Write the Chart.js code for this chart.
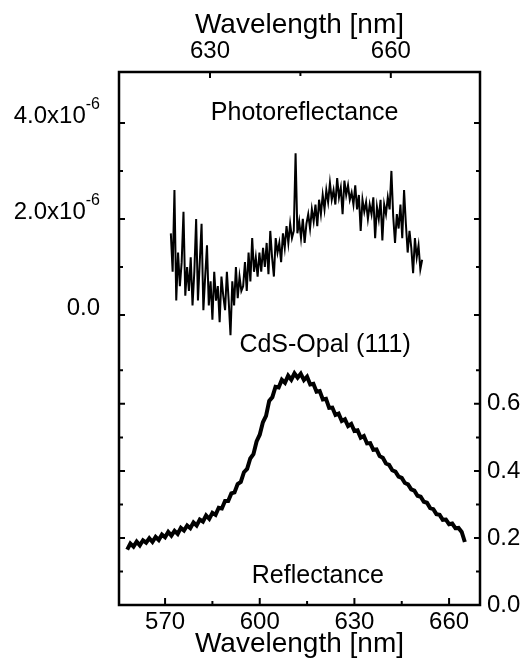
<!DOCTYPE html>
<html>
<head>
  <meta charset="utf-8">
  <script src="https://cdn.jsdelivr.net/npm/chart.js"></script>
  <style>
    body { margin: 0; background: #fff; }
  </style>
</head>
<body>
  <canvas id="chart" width="521" height="663"></canvas>
  <script>
    // axis ticks
    const bottomTicks = [570, 600, 630, 660];
    const bottomMinor = [585, 615, 645];
    const topTicks = [630, 660];
    const topMinor = [645];
    const leftTicks = [0, 2, 4];          // photoreflectance, x1e-6
    const leftMinor = [1, 3];
    const leftLabels = ['0.0', '2.0x10', '4.0x10'];
    const leftExp = ['', '-6', '-6'];
    const rightTicks = [0, 0.2, 0.4, 0.6];
    const rightMinor = [0.1, 0.3, 0.5, 0.7];

    // photoreflectance (top wavelength axis), one sample every 0.3 nm from 623.5 nm, values x1e-6
    const prStart = 623.5, prStep = 0.3;
    const prValues = [
      1.7, 0.9, 2.6, 0.3, 1.3, 0.6, 1.1, 2.15, 0.4, 1.0,
      0.5, 1.2, 0.2, 0.9, 2.0, 0.3, 1.1, 1.9, 0.1, 0.8,
      1.45, 0.2, 0.7, -0.1, 0.9, 0.3, 0.6, -0.15, 0.8, 0.4,
      0.1, 0.9, 0.3, -0.42, 0.7, 0.2, 1.0, 0.35, 0.8, 0.5,
      0.6, 1.1, 0.5, 1.3, 0.7, 1.6, 0.9, 1.2, 0.8, 1.3,
      0.9, 1.4, 1.0, 1.5, 0.85, 1.75, 1.2, 0.8, 1.6, 1.3,
      1.5, 1.1, 1.7, 1.4, 1.85, 1.5, 1.9, 1.6, 1.75, 3.37,
      1.7, 1.95, 1.6, 2.0, 1.5, 1.9, 2.1, 1.8, 2.2, 1.95,
      2.3, 1.85, 2.4, 2.1, 2.5, 2.2, 2.6, 2.35, 2.75, 2.4,
      2.6, 2.3, 2.85, 2.45, 2.65, 2.1, 2.8, 2.5, 2.7, 2.4,
      2.55, 2.3, 2.7, 2.2, 2.5, 1.75, 2.4, 2.15, 2.35, 2.0,
      2.3, 2.1, 2.45, 1.6, 2.25, 2.0, 2.4, 1.55, 2.3, 2.1,
      2.45, 2.2, 3.0, 2.05, 1.5, 2.1, 1.8, 2.3, 1.6, 2.6,
      1.9, 1.3, 1.75, 1.4, 0.87, 1.6, 1.2, 1.45, 0.95, 1.15
    ];

    // reflectance (bottom wavelength axis), one sample per nm from 558 nm
    const reflStart = 558, reflStep = 1;
    const reflValues = [
      0.165, 0.183, 0.174, 0.189, 0.178, 0.193, 0.186, 0.199, 0.188, 0.203,
      0.194, 0.210, 0.202, 0.218, 0.207, 0.221, 0.212, 0.230, 0.222, 0.237,
      0.229, 0.246, 0.237, 0.255, 0.249, 0.267, 0.257, 0.275, 0.269, 0.290,
      0.288, 0.310, 0.310, 0.333, 0.336, 0.361, 0.367, 0.396, 0.406, 0.437,
      0.450, 0.488, 0.508, 0.545, 0.564, 0.609, 0.620, 0.651, 0.649, 0.672,
      0.663, 0.684, 0.672, 0.691, 0.678, 0.690, 0.671, 0.681, 0.658, 0.660,
      0.636, 0.638, 0.613, 0.615, 0.588, 0.589, 0.567, 0.571, 0.549, 0.554,
      0.534, 0.540, 0.519, 0.521, 0.499, 0.504, 0.482, 0.483, 0.463, 0.464,
      0.444, 0.439, 0.422, 0.418, 0.402, 0.398, 0.383, 0.379, 0.364, 0.360,
      0.345, 0.341, 0.326, 0.323, 0.308, 0.305, 0.289, 0.286, 0.271, 0.269,
      0.254, 0.255, 0.241, 0.243, 0.229, 0.230, 0.218, 0.188
    ];

    const notes = [
      { text: 'Photoreflectance', xAxis: 'xTop', x: 645.7, yAxis: 'yL', y: 4.21 },
      { text: 'CdS-Opal (111)', xAxis: 'x', x: 620.7, yAxis: 'yR', y: 0.776 },
      { text: 'Reflectance', xAxis: 'x', x: 618.4, yAxis: 'yR', y: 0.087 }
    ];

    const family = '"Liberation Sans", Arial, sans-serif';

    const prData = prValues.map((v, i) => ({ x: prStart + i * prStep, y: v }));
    const reflData = reflValues.map((v, i) => ({ x: reflStart + i * reflStep, y: v }));

    // frame with inward ticks, left labels with superscript, text notes
    const frameAndTicks = {
      id: 'frameAndTicks',
      afterDatasetsDraw(chart) {
        const { ctx, chartArea: a, scales } = chart;
        ctx.save();
        ctx.strokeStyle = '#000';
        ctx.lineWidth = 2.5;
        ctx.strokeRect(a.left, a.top, a.right - a.left, a.bottom - a.top);
        ctx.lineWidth = 2;

        const yTicks = (scale, vals, len) => vals.forEach(v => {
          const y = scale.getPixelForValue(v);
          ctx.beginPath();
          ctx.moveTo(a.left, y); ctx.lineTo(a.left + len, y);
          ctx.moveTo(a.right, y); ctx.lineTo(a.right - len, y);
          ctx.stroke();
        });
        const xTicks = (scale, vals, len, top) => vals.forEach(v => {
          const x = scale.getPixelForValue(v);
          ctx.beginPath();
          if (top) { ctx.moveTo(x, a.top); ctx.lineTo(x, a.top + len); }
          else { ctx.moveTo(x, a.bottom); ctx.lineTo(x, a.bottom - len); }
          ctx.stroke();
        });
        yTicks(scales.yL, leftTicks, 6);
        yTicks(scales.yL, leftMinor, 4);
        yTicks(scales.yR, rightTicks, 6);
        yTicks(scales.yR, rightMinor, 4);
        xTicks(scales.x, bottomTicks, 7, false);
        xTicks(scales.x, bottomMinor, 4, false);
        xTicks(scales.xTop, topTicks, 6, true);
        xTicks(scales.xTop, topMinor, 4, true);

        ctx.fillStyle = '#000';
        ctx.textBaseline = 'middle';
        ctx.textAlign = 'right';
        leftTicks.forEach((v, i) => {
          const y = scales.yL.getPixelForValue(v) - 7;
          let xr = 100;
          if (leftExp[i]) {
            ctx.font = '16px ' + family;
            ctx.fillText(leftExp[i], xr, y - 11);
            xr -= ctx.measureText(leftExp[i]).width;
          }
          ctx.font = '24px ' + family;
          ctx.fillText(leftLabels[i], xr, y);
        });

        ctx.textAlign = 'center';
        ctx.font = '25px ' + family;
        notes.forEach(n => {
          ctx.fillText(n.text, scales[n.xAxis].getPixelForValue(n.x), scales[n.yAxis].getPixelForValue(n.y));
        });
        ctx.restore();
      }
    };

    const tickFont = { family: family, size: 24 };
    const titleFont = { family: family, size: 28 };

    new Chart(document.getElementById('chart'), {
      type: 'line',
      data: {
        datasets: [
          {
            label: 'Photoreflectance',
            data: prData,
            xAxisID: 'xTop',
            yAxisID: 'yL',
            borderColor: '#000',
            borderWidth: 2,
            pointRadius: 0,
            tension: 0
          },
          {
            label: 'Reflectance',
            data: reflData,
            xAxisID: 'x',
            yAxisID: 'yR',
            borderColor: '#000',
            borderWidth: 4,
            pointRadius: 0,
            tension: 0
          }
        ]
      },
      options: {
        responsive: false,
        animation: false,
        devicePixelRatio: 1,
        layout: { padding: 0 },
        plugins: { legend: { display: false }, tooltip: { enabled: false } },
        scales: {
          x: {
            type: 'linear',
            position: 'bottom',
            min: 555.4,
            max: 669.8,
            grid: { display: false, drawTicks: false },
            border: { display: false },
            afterBuildTicks: s => { s.ticks = bottomTicks.map(v => ({ value: v })); },
            afterFit: s => { s.height = 58; },
            ticks: { color: '#000', font: tickFont, padding: 3, maxRotation: 0, autoSkip: false, callback: v => String(v) },
            title: { display: true, text: 'Wavelength [nm]', color: '#000', font: titleFont, padding: { top: 0, bottom: 2 } }
          },
          xTop: {
            type: 'linear',
            position: 'top',
            min: 614.9,
            max: 674.8,
            grid: { display: false, drawTicks: false },
            border: { display: false },
            afterBuildTicks: s => { s.ticks = topTicks.map(v => ({ value: v })); },
            afterFit: s => { s.height = 72; },
            ticks: { color: '#000', font: tickFont, padding: 6, maxRotation: 0, autoSkip: false, callback: v => String(v) },
            title: { display: true, text: 'Wavelength [nm]', color: '#000', font: titleFont, padding: { top: 8, bottom: 0 } }
          },
          yL: {
            type: 'linear',
            position: 'left',
            min: -6.04,
            max: 5.06,
            grid: { display: false, drawTicks: false },
            border: { display: false },
            ticks: { display: false },
            afterFit: s => { s.width = 119; }
          },
          yR: {
            type: 'linear',
            position: 'right',
            min: 0,
            max: 1.59,
            grid: { display: false, drawTicks: false },
            border: { display: false },
            afterBuildTicks: s => { s.ticks = rightTicks.map(v => ({ value: v })); },
            afterFit: s => { s.width = 41; },
            ticks: { color: '#000', font: tickFont, padding: 7, autoSkip: false, callback: v => v.toFixed(1) }
          }
        }
      },
      plugins: [frameAndTicks]
    });
  </script>
</body>
</html>
